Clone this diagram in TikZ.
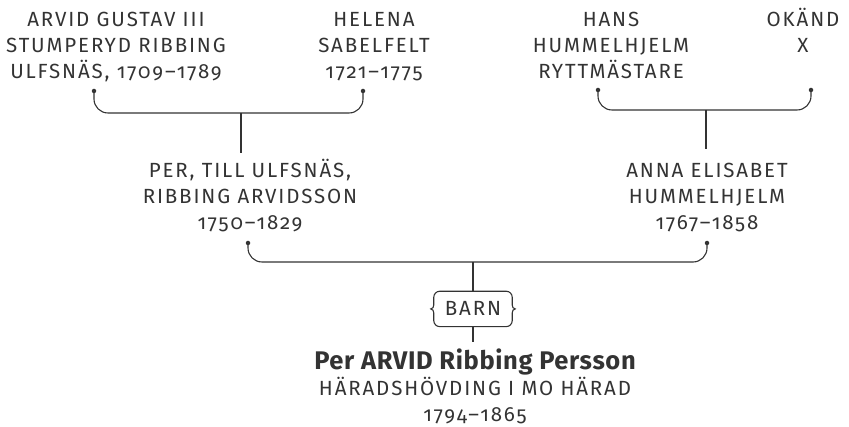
\documentclass[tikz,border=0pt]{standalone}
\usepackage{fontspec}
\setmainfont{Fira Sans}[Numbers=OldStyle]
\newfontfamily\tracked{Fira Sans}[Numbers=OldStyle, LetterSpace=9]
\newfontfamily\namefont{Fira Sans}[Numbers=OldStyle, LetterSpace=2.5]
\usetikzlibrary{positioning,calc}
\definecolor{ink}{HTML}{333333}

\tikzset{
  person/.style={align=center, inner sep=0pt, text=ink,
    font=\tracked\fontsize{20.5}{26}\selectfont},
  knot/.style={circle, fill=ink, inner sep=0pt, minimum size=4.5pt},
  link/.style={draw=ink, line width=1.1pt, rounded corners=14pt},
}

\begin{document}
\begin{tikzpicture}[x=1pt, y=1pt]
  \useasboundingbox (0,0) rectangle (849,-427);

  % Define nodes (base = last line)
  \node[person, anchor=base] (arvid)  at (116,-79) {ARVID GUSTAV III\\STUMPERYD RIBBING\\ULFSNÄS, 1709–1789};
  \node[person, anchor=base] (helena) at (374,-79) {HELENA\\SABELFELT\\1721–1775};
  \node[person, anchor=base] (hans)   at (611,-79) {HANS\\HUMMELHJELM\\RYTTMÄSTARE};
  \node[person, anchor=base] (okand)  at (803,-53) {OKÄND\\X};
  \node[person, anchor=base] (per)    at (250,-230) {PER, TILL ULFSNÄS,\\RIBBING ARVIDSSON\\1750–1829};
  \node[person, anchor=base] (anna)   at (707,-230) {ANNA ELISABET\\HUMMELHJELM\\1767–1858};
  \node[person, anchor=base, inner xsep=11pt, minimum height=35pt] (barn) at (473,-316) {BARN};
  \node[person, anchor=base] (arvidp) at (475,-422) {{\namefont\fontsize{25.5}{26}\selectfont\bfseries Per ARVID Ribbing Persson}\\HÄRADSHÖVDING I MO HÄRAD\\1794–1865};

  % Knots
  \node[knot] (arvid-k)  at (94,-91)  {};
  \node[knot] (helena-k) at (363,-91) {};
  \node[knot] (hans-k)   at (598,-90) {};
  \node[knot] (okand-k)  at (811,-90) {};
  \node[knot] (per-k)    at (248,-243) {};
  \node[knot] (anna-k)   at (707,-243) {};
  \coordinate (ribbing) at (241,-113);
  \coordinate (hummel)  at (706,-110);
  \coordinate (union)   at (473,-262);

  % Connect the nodes
  \draw[link] (arvid-k.center) |- (ribbing) -| (helena-k.center);
  \draw[link] (hans-k.center) |- (hummel) -| (okand-k.center);
  \draw[link] (per-k.center) |- (union) -| (anna-k.center);
  \draw[link] (ribbing) -- ([yshift=6pt]ribbing |- per.north);
  \draw[link] (hummel) -- ([yshift=14pt]hummel |- anna.north);
  \draw[link] (union) -- (barn.north);
  \draw[link] (barn.south) -- ([yshift=7pt]barn.south |- arvidp.north);

  % Brace box
  \draw[ink, line width=1.1pt]
    ($(barn.north west)+(6,0)$) -- ($(barn.north east)+(-6,0)$)
    to[out=0, in=90] ($(barn.north east)+(0,-6)$) -- ($(barn.east)+(0,4)$)
    to[out=-90, in=180] ($(barn.east)+(3,0)$) to[out=180, in=90] ($(barn.east)+(0,-4)$)
    -- ($(barn.south east)+(0,6)$) to[out=-90, in=0] ($(barn.south east)+(-6,0)$)
    -- ($(barn.south west)+(6,0)$) to[out=180, in=-90] ($(barn.south west)+(0,6)$)
    -- ($(barn.west)+(0,-4)$) to[out=90, in=0] ($(barn.west)+(-3,0)$)
    to[out=0, in=-90] ($(barn.west)+(0,4)$) -- ($(barn.north west)+(0,-6)$)
    to[out=90, in=180] cycle;
\end{tikzpicture}
\end{document}
